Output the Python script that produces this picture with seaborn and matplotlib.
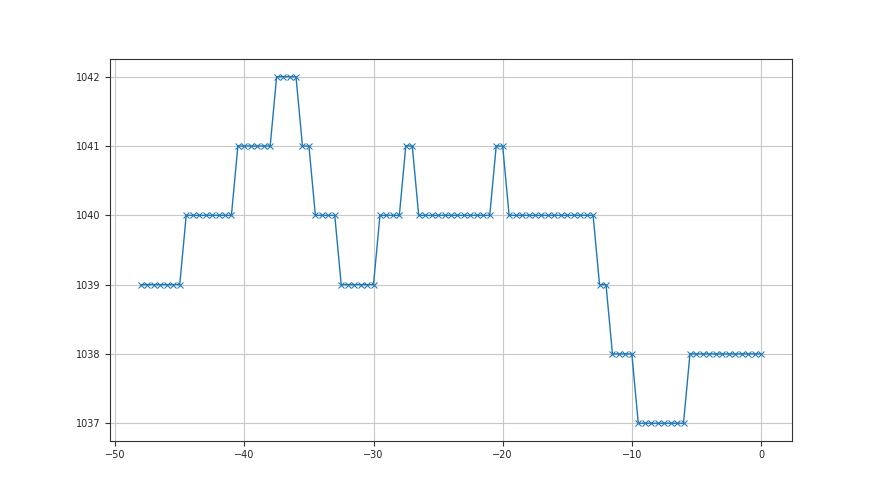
import matplotlib
matplotlib.use("Agg")
import matplotlib.pyplot as plt
import seaborn as sns
import pandas as pd

# time offsets (step 0.5) and readings
x_vals = [-48.0, -47.5, -47.0, -46.5, -46.0, -45.5, -45.0,
          -44.5, -44.0, -43.5, -43.0, -42.5, -42.0, -41.5, -41.0,
          -40.5, -40.0, -39.5, -39.0, -38.5, -38.0,
          -37.5, -37.0, -36.5, -36.0,
          -35.5, -35.0,
          -34.5, -34.0, -33.5, -33.0,
          -32.5, -32.0, -31.5, -31.0, -30.5, -30.0,
          -29.5, -29.0, -28.5, -28.0,
          -27.5, -27.0,
          -26.5, -26.0, -25.5, -25.0, -24.5, -24.0, -23.5, -23.0, -22.5, -22.0, -21.5, -21.0,
          -20.5, -20.0,
          -19.5, -19.0, -18.5, -18.0, -17.5, -17.0, -16.5, -16.0, -15.5, -15.0, -14.5, -14.0, -13.5, -13.0,
          -12.5, -12.0,
          -11.5, -11.0, -10.5, -10.0,
          -9.5, -9.0, -8.5, -8.0, -7.5, -7.0, -6.5, -6.0,
          -5.5, -5.0, -4.5, -4.0, -3.5, -3.0, -2.5, -2.0, -1.5, -1.0, -0.5, 0.0]

y_vals = [1039, 1039, 1039, 1039, 1039, 1039, 1039,
          1040, 1040, 1040, 1040, 1040, 1040, 1040, 1040,
          1041, 1041, 1041, 1041, 1041, 1041,
          1042, 1042, 1042, 1042,
          1041, 1041,
          1040, 1040, 1040, 1040,
          1039, 1039, 1039, 1039, 1039, 1039,
          1040, 1040, 1040, 1040,
          1041, 1041,
          1040, 1040, 1040, 1040, 1040, 1040, 1040, 1040, 1040, 1040, 1040, 1040,
          1041, 1041,
          1040, 1040, 1040, 1040, 1040, 1040, 1040, 1040, 1040, 1040, 1040, 1040, 1040, 1040,
          1039, 1039,
          1038, 1038, 1038, 1038,
          1037, 1037, 1037, 1037, 1037, 1037, 1037, 1037,
          1038, 1038, 1038, 1038, 1038, 1038, 1038, 1038, 1038, 1038, 1038, 1038]

df = pd.DataFrame({"t": x_vals, "value": y_vals})

sns.set_style("ticks")
plt.rcParams["font.size"] = 7

fig, ax = plt.subplots(figsize=(8.8, 4.95), dpi=100)
sns.lineplot(data=df, x="t", y="value", ax=ax, color="#1f77b4",
             marker="x", markersize=4, markeredgecolor="#1f77b4", linewidth=1)

ax.grid(True, color="#c8c8c8", linewidth=0.8)
ax.set_xlabel("")
ax.set_ylabel("")
ax.tick_params(labelsize=7, length=3.5, color="#333333")
for s in ax.spines.values():
    s.set_color("#333333")
    s.set_linewidth(0.8)

plt.savefig("out.png", dpi=100)
plt.close()
